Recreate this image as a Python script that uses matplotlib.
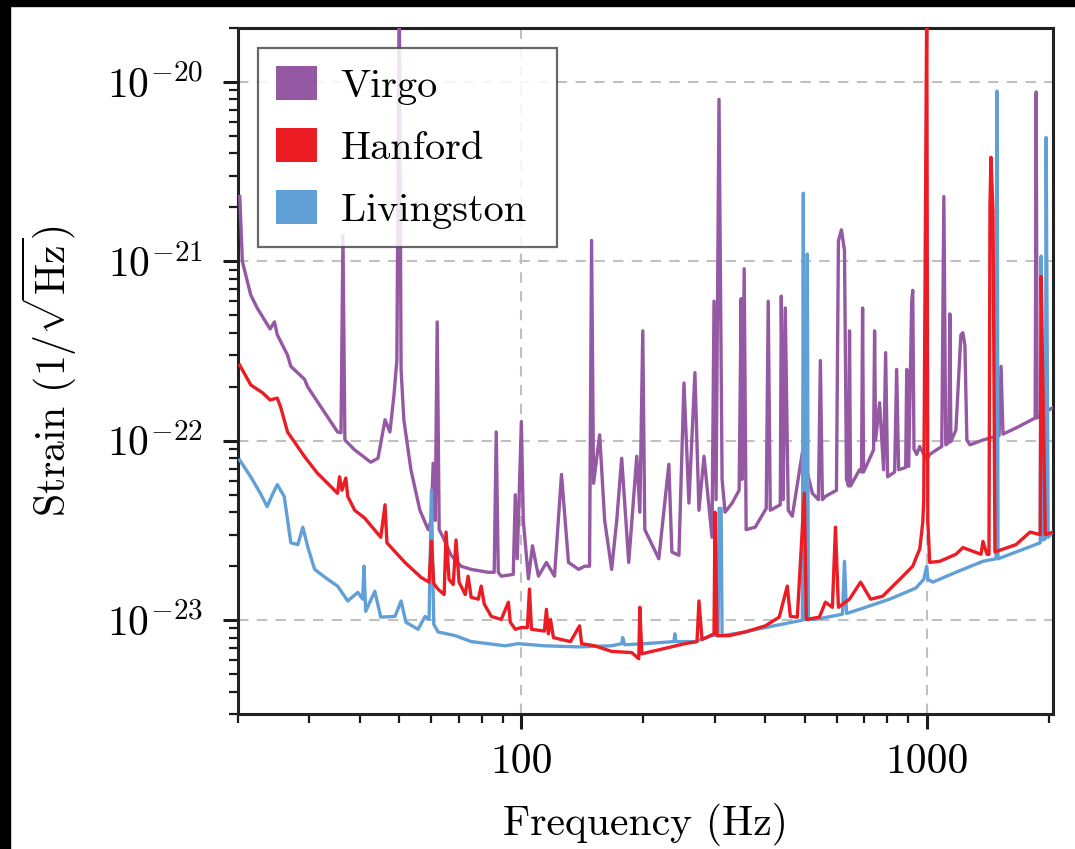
import numpy as np
import matplotlib
matplotlib.use('Agg')
import matplotlib.pyplot as plt
from matplotlib.patches import Patch, Rectangle
from matplotlib.ticker import FixedLocator, NullFormatter, LogLocator

plt.rcParams['font.family'] = ['cmr10', 'DejaVu Serif']
plt.rcParams['mathtext.fontset'] = 'cm'
plt.rcParams['axes.formatter.use_mathtext'] = True

# amplitude spectral densities (Hz, 1/sqrt(Hz))
virgo_freq = [20.2, 20.5, 21.5, 22.3, 24.0, 24.6, 25.0, 26.5, 27.0, 29.2,
              29.7, 32.0, 35.2, 35.9, 36.3, 36.7, 38.8, 42.5, 44.3, 46.1,
              47.4, 48.5, 49.3, 50.0, 50.5, 51.3, 53.4, 56.2, 58.9, 59.9,
              60.6, 61.3, 62.0, 62.7, 64.1, 67.1, 71.0, 75.2, 82.8, 85.7,
              86.7, 87.7, 89.2, 95.5, 96.6, 97.7, 100.0, 101.1, 104.1, 106.5,
              110.2, 115.3, 120.7, 125.6, 130.7, 138.4, 143.2, 147.3, 149.0, 150.7,
              156.0, 160.5, 167.0, 171.9, 176.8, 184.0, 192.6, 196.0, 199.3, 201.6,
              218.3, 231.1, 235.1, 244.7, 251.8, 259.0, 268.0, 274.2, 282.2, 295.3,
              298.7, 302.2, 307.3, 312.7, 318.0, 331.1, 344.5, 348.5, 350.5, 354.5,
              358.5, 377.4, 401.8, 406.4, 411.1, 435.2, 437.7, 442.6, 447.7, 455.4,
              465.9, 493.3, 522.2, 540.4, 546.5, 552.8, 562.3, 598.7, 605.5, 615.9,
              626.7, 633.9, 641.2, 644.9, 648.6, 682.8, 690.4, 694.6, 698.4, 739.3,
              743.6, 747.8, 765.1, 782.6, 791.7, 800.6, 833.2, 842.8, 852.4, 887.2,
              892.5, 902.5, 918.1, 923.5, 930.0, 944.6, 961.1, 1000, 1017, 1089,
              1102, 1114, 1134, 1140, 1147, 1180, 1214, 1228, 1242, 1256,
              1278, 1376, 1508, 1525, 1542, 1661, 1851, 1862, 1872, 1937,
              2048]
virgo_asd = [2.3e-21, 1.0e-21, 6.5e-22, 5.5e-22, 4.2e-22, 4.6e-22, 3.9e-22, 3.0e-22, 2.6e-22, 2.2e-22,
             2.0e-22, 1.55e-22, 1.12e-22, 1.11e-22, 1.4e-21, 1.01e-22, 8.9e-23, 7.6e-23, 8.0e-23, 1.31e-22,
             1.12e-22, 1.8e-22, 2.8e-22, 3e-20, 2.5e-22, 1.31e-22, 6.9e-23, 4.1e-23, 3.2e-23, 3.6e-23,
             7.5e-23, 3.6e-23, 4.6e-22, 3.2e-23, 2.9e-23, 2.3e-23, 2.0e-23, 1.92e-23, 1.85e-23, 1.85e-23,
             1.12e-22, 1.85e-23, 1.76e-23, 1.8e-23, 5.0e-23, 2.2e-23, 1.28e-22, 3.6e-23, 1.7e-23, 2.6e-23,
             1.76e-23, 2.1e-23, 1.76e-23, 6.5e-23, 2.1e-23, 1.92e-23, 2.0e-23, 2.0e-23, 1.31e-21, 5.8e-23,
             1.08e-22, 3.6e-23, 1.92e-23, 3.6e-23, 8.0e-23, 2.1e-23, 8.2e-23, 4.0e-23, 4.1e-22, 3.2e-23,
             2.2e-23, 7.4e-23, 2.4e-23, 2.3e-23, 2.1e-22, 4.5e-23, 2.4e-22, 4.1e-23, 8.2e-23, 2.9e-23,
             6.0e-22, 4.7e-23, 8.0e-21, 6.1e-23, 4.0e-23, 4.5e-23, 5.3e-23, 6.2e-22, 6.1e-23, 9.1e-22,
             3.2e-23, 3.3e-23, 4.2e-23, 6.0e-22, 4.1e-23, 4.4e-23, 6.4e-22, 4.7e-23, 5.5e-22, 4.1e-23,
             3.8e-23, 8.6e-23, 5.1e-23, 4.7e-23, 2.8e-22, 4.7e-23, 4.9e-23, 5.3e-23, 1.3e-21, 1.5e-21,
             1.15e-21, 6.1e-23, 5.6e-23, 4.1e-22, 5.6e-23, 6.9e-23, 6.7e-23, 5.5e-22, 6.7e-23, 8.9e-23,
             4.1e-22, 1.01e-22, 1.63e-22, 6.9e-23, 3.1e-22, 6.3e-23, 6.7e-23, 2.5e-22, 6.9e-23, 7.1e-23,
             2.5e-22, 7.2e-23, 6.0e-22, 6.9e-22, 9.0e-23, 8.4e-23, 9.3e-23, 7.8e-23, 8.4e-23, 9.3e-23,
             2.3e-21, 9.5e-23, 9.8e-23, 5.1e-22, 9.9e-23, 1.15e-22, 3.9e-22, 4.0e-22, 3.4e-22, 1.01e-22,
             9.5e-23, 1.01e-22, 1.07e-22, 2.6e-22, 1.09e-22, 1.18e-22, 1.34e-22, 8.8e-21, 1.34e-22, 1.43e-22,
             1.53e-22]

hanford_freq = [20.2, 21.5, 23.0, 24.0, 25.0, 25.5, 26.5, 29.2, 31.4, 35.2,
                35.6, 36.1, 36.9, 37.3, 38.8, 41.1, 45.0, 46.1, 46.6, 51.6,
                56.6, 59.2, 60.0, 60.8, 62.3, 64.5, 65.2, 66.3, 67.9, 69.0,
                70.2, 72.7, 73.9, 75.2, 78.3, 79.6, 81.0, 84.3, 89.2, 92.9,
                93.9, 96.6, 100.0, 103.5, 104.7, 105.9, 114.0, 115.3, 116.6, 118.0,
                120.0, 125.6, 132.2, 139.2, 140.8, 151.6, 167.0, 187.2, 194.8, 196.0,
                198.2, 222.1, 253.2, 271.2, 274.2, 279.0, 298.7, 300.4, 303.9, 325.4,
                356.5, 399.6, 432.6, 452.9, 460.7, 479.4, 498.9, 504.7, 543.4, 562.3,
                585.1, 595.4, 605.5, 644.9, 686.7, 726.9, 778.3, 857.7, 923.5, 961.1,
                977.5, 983.1, 1000, 1006, 1017, 1077, 1180, 1228, 1361, 1376,
                1408, 1424, 1432, 1440, 1457, 1473, 1661, 1798, 1905, 1915,
                1937, 1960, 2048]
hanford_asd = [2.64e-22, 2.05e-22, 1.85e-22, 1.69e-22, 1.73e-22, 1.53e-22, 1.12e-22, 8.15e-23, 6.6e-23, 5.1e-23,
               6.3e-23, 5.3e-23, 6.2e-23, 4.9e-23, 4.1e-23, 3.7e-23, 2.9e-23, 4.4e-23, 2.7e-23, 2.1e-23,
               1.73e-23, 1.63e-23, 2.75e-23, 1.6e-23, 1.49e-23, 1.39e-23, 3.1e-23, 1.69e-23, 1.58e-23, 2.8e-23,
               1.63e-23, 1.39e-23, 1.76e-23, 1.34e-23, 1.31e-23, 1.55e-23, 1.23e-23, 1.05e-23, 1.01e-23, 1.26e-23,
               9.75e-24, 8.9e-24, 9.1e-24, 9.1e-24, 1.49e-23, 8.9e-24, 8.7e-24, 1.15e-23, 8.4e-24, 1.01e-23,
               8.0e-24, 7.8e-24, 7.6e-24, 9.3e-24, 7.4e-24, 7.2e-24, 6.7e-24, 6.6e-24, 6.1e-24, 1.18e-23,
               6.5e-24, 6.9e-24, 7.4e-24, 7.6e-24, 1.28e-23, 7.8e-24, 8.4e-24, 4.0e-23, 8.2e-24, 8.2e-24,
               8.6e-24, 9.3e-24, 1.04e-23, 1.55e-23, 1.05e-23, 1.04e-23, 5.1e-23, 1.01e-23, 1.04e-23, 1.26e-23,
               1.18e-23, 3.3e-23, 1.18e-23, 1.31e-23, 1.63e-23, 1.31e-23, 1.36e-23, 1.69e-23, 2.0e-23, 2.5e-23,
               3.5e-23, 4.7e-23, 3e-20, 3.6e-23, 2.1e-23, 2.13e-23, 2.33e-23, 2.54e-23, 2.33e-23, 2.75e-23,
               2.33e-23, 2.33e-23, 2.05e-21, 3.8e-21, 1.9e-21, 2.4e-23, 2.64e-23, 3.1e-23, 3.0e-23, 8.25e-22,
               1.69e-22, 3.0e-23, 3.1e-23]

livingston_freq = [20.2, 21.5, 22.7, 23.6, 24.3, 25.0, 26.0, 27.0, 28.1, 28.9,
                   29.7, 30.9, 33.3, 35.2, 37.3, 39.5, 40.6, 40.9, 41.3, 43.5,
                   45.0, 48.8, 50.5, 51.9, 55.6, 57.9, 59.2, 60.0, 60.8, 62.3,
                   68.7, 75.2, 82.8, 91.3, 98.3, 114.0, 138.4, 167.0, 176.8, 177.8,
                   179.9, 201.6, 237.8, 239.2, 240.5, 268.0, 295.3, 305.6, 307.3, 311.0,
                   312.7, 356.5, 399.6, 465.9, 493.3, 496.1, 498.9, 504.7, 507.5, 510.4,
                   531.2, 619.4, 626.7, 633.9, 706.3, 809.9, 939.6, 983.1, 1000, 1006,
                   1035, 1180, 1376, 1482, 1491, 1499, 1661, 1905, 1915, 1937,
                   1962, 1970, 1993, 2048]
livingston_asd = [7.8e-23, 6.3e-23, 5.1e-23, 4.3e-23, 5.0e-23, 5.7e-23, 4.9e-23, 2.7e-23, 2.64e-23, 3.3e-23,
                  2.58e-23, 1.92e-23, 1.69e-23, 1.55e-23, 1.28e-23, 1.43e-23, 1.31e-23, 2.0e-23, 1.12e-23, 1.45e-23,
                  1.04e-23, 1.05e-23, 1.28e-23, 9.75e-24, 8.9e-24, 1.05e-23, 1.01e-23, 5.3e-23, 9.5e-24, 8.6e-24,
                  8.2e-24, 7.6e-24, 7.4e-24, 7.2e-24, 7.4e-24, 7.2e-24, 7.1e-24, 7.2e-24, 7.4e-24, 8.0e-24,
                  7.3e-24, 7.4e-24, 7.6e-24, 8.4e-24, 7.6e-24, 7.6e-24, 8.2e-24, 8.3e-24, 4.2e-23, 4.2e-23,
                  8.2e-24, 8.6e-24, 9.1e-24, 9.75e-24, 1.0e-23, 2.4e-21, 1.01e-23, 1.01e-23, 1.1e-21, 1.01e-23,
                  1.01e-23, 1.08e-23, 2.13e-23, 1.09e-23, 1.18e-23, 1.31e-23, 1.51e-23, 1.69e-23, 2.0e-23, 1.69e-23,
                  1.63e-23, 1.85e-23, 2.13e-23, 2.2e-23, 8.9e-21, 2.2e-23, 2.4e-23, 2.7e-23, 1.07e-21, 2.8e-23,
                  2.85e-23, 4.9e-21, 2.9e-23, 3.1e-23]

labels = ['Virgo', 'Hanford', 'Livingston ']
colors = ['#9558a2', '#ec1c24', '#619fd7']

fig = plt.figure(figsize=(10.75, 8.49), dpi=100)
ax = fig.add_axes([0.2214, 0.159, 0.7581, 0.808])

ax.plot(virgo_freq, virgo_asd, color=colors[0], lw=2.4, zorder=3)
ax.plot(livingston_freq, livingston_asd, color=colors[2], lw=2.4, zorder=4)
ax.plot(hanford_freq, hanford_asd, color=colors[1], lw=2.4, zorder=5)

ax.set_xscale('log')
ax.set_yscale('log')
ax.set_xlim(20, 2048)
ax.set_ylim(3e-24, 2e-20)

ax.set_xticks([100, 1000])
ax.set_xticklabels(['100', '1000'])
ax.xaxis.set_minor_locator(FixedLocator([20, 30, 40, 50, 60, 70, 80, 90,
                                         200, 300, 400, 500, 600, 700, 800, 900, 2000]))
ax.xaxis.set_minor_formatter(NullFormatter())
ax.set_yticks([1e-23, 1e-22, 1e-21, 1e-20])
ax.set_yticklabels([r'$10^{-23}$', r'$10^{-22}$', r'$10^{-21}$', r'$10^{-20}$'])
ax.yaxis.set_minor_locator(LogLocator(base=10, subs=np.arange(2, 10)))
ax.yaxis.set_minor_formatter(NullFormatter())

ax.tick_params(which='major', direction='out', length=11, width=2.2,
               labelsize=30, color='#1a1a1a')
ax.tick_params(axis='x', which='major', pad=10)
ax.tick_params(axis='y', which='major', pad=14)
ax.tick_params(which='minor', direction='out', length=6.5, width=1.6, color='#1a1a1a')
ax.tick_params(top=False, right=False, which='both')

for s in ax.spines.values():
    s.set_linewidth(2.2)
    s.set_color('#222222')

ax.grid(True, which='major', color='#c0c0c0', linestyle=(0, (5, 4)), lw=1.5)
ax.set_axisbelow(True)

ax.set_xlabel('Frequency (Hz)', fontsize=30, labelpad=16)
ax.set_ylabel(r'Strain $(1/\sqrt{\mathrm{Hz}})$', fontsize=30, labelpad=20)

handles = [Patch(facecolor=c, edgecolor='none') for c in colors]
leg = ax.legend(handles, labels, loc='upper left', fontsize=29, frameon=True,
                fancybox=False, edgecolor='#4d4d4d', framealpha=0.85,
                handlelength=1.0, handleheight=0.9, handletextpad=0.6,
                labelspacing=0.58, borderpad=0.45, borderaxespad=0.5)
leg.get_frame().set_linewidth(1.6)

# black edges of the screenshot
fig.patches.append(Rectangle((0, 1 - 6 / 849), 1, 6 / 849, transform=fig.transFigure,
                             color='black', zorder=10))
fig.patches.append(Rectangle((0, 0), 10 / 1075, 1, transform=fig.transFigure,
                             color='black', zorder=10))

fig.savefig('out.png', dpi=100)
